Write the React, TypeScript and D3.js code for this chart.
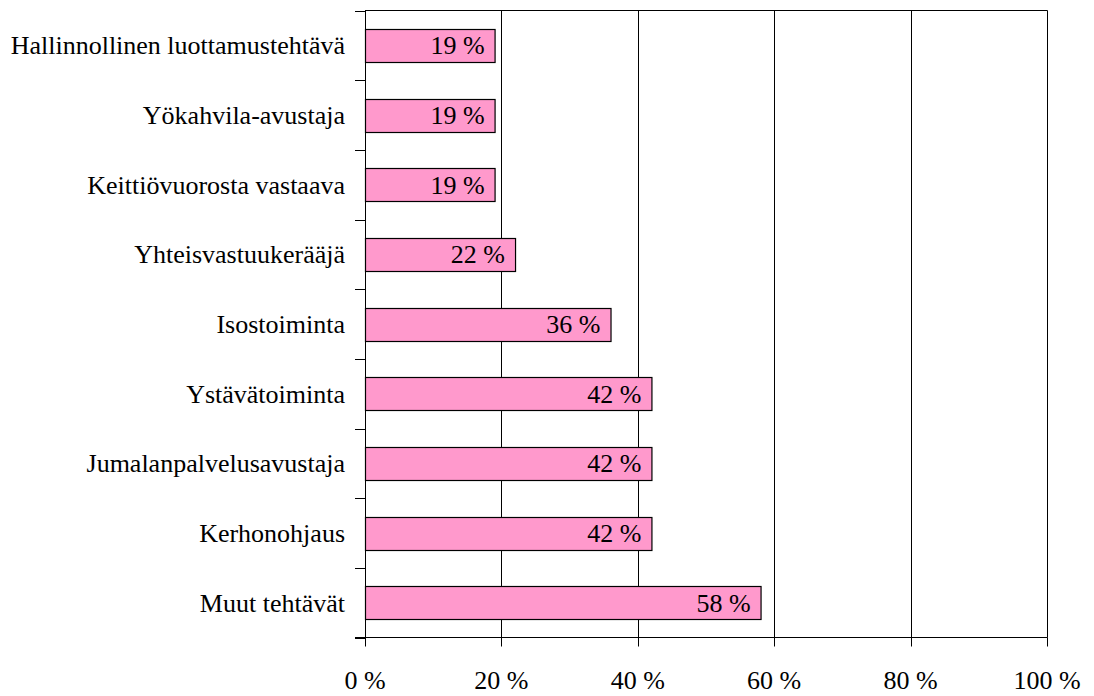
import React from "react";
import * as d3 from "d3";

const categories: string[] = [
    "Hallinnollinen luottamustehtävä",
    "Yökahvila-avustaja",
    "Keittiövuorosta vastaava",
    "Yhteisvastuukerääjä",
    "Isostoiminta",
    "Ystävätoiminta",
    "Jumalanpalvelusavustaja",
    "Kerhonohjaus",
    "Muut tehtävät",
];
const values: number[] = [19, 19, 19, 22, 36, 42, 42, 42, 58];
const xTicks: number[] = [0, 20, 40, 60, 80, 100];

const App: React.FC = () => {
    const width = 1094;
    const height = 696;
    const left = 365;
    const right = 1047;
    const top = 10.5;
    const bottom = 637.5;

    const x = d3.scaleLinear().domain([0, 100]).range([left, right]);
    const y = d3.scaleBand<string>()
        .domain(categories)
        .range([top, bottom])
        .paddingInner(0.53)
        .paddingOuter(0.265);
    const step = y.step();
    const boundaries = d3.range(categories.length + 1).map(i => top + i * step);

    return (
        <svg
            width={width}
            height={height}
            style={{ position: "absolute", left: 0, top: 0, background: "#fff", fontFamily: '"Liberation Serif"', fontSize: "26px" }}
        >
            {/* grid lines */}
            {xTicks.slice(1).map(t => (
                <line key={`g${t}`} x1={Math.round(x(t)) + 0.5} x2={Math.round(x(t)) + 0.5} y1={top} y2={bottom} stroke="#000" strokeWidth={1} />
            ))}
            <line x1={left} x2={right + 0.5} y1={top} y2={top} stroke="#000" />
            {/* bars */}
            {categories.map((c, i) => (
                <g key={c}>
                    <rect
                        x={x(0) + 0.5}
                        y={Math.round(y(c)!) + 0.5}
                        width={x(values[i]) - x(0)}
                        height={Math.round(y.bandwidth())}
                        fill="#FF99CC"
                        stroke="#000"
                        strokeWidth={1.2}
                    />
                    <text x={x(values[i]) - 10} y={y(c)! + y.bandwidth() / 2 + 9} textAnchor="end" fill="#000">
                        {`${values[i]} %`}
                    </text>
                    <text x={345} y={y(c)! + y.bandwidth() / 2 + 9} textAnchor="end" fill="#000">
                        {c}
                    </text>
                </g>
            ))}
            {/* y axis */}
            <line x1={left + 0.5} x2={left + 0.5} y1={top} y2={bottom} stroke="#000" />
            {boundaries.map((b, i) => (
                <line key={`yt${i}`} x1={355} x2={left} y1={Math.round(b) + 0.5} y2={Math.round(b) + 0.5} stroke="#000" />
            ))}
            {/* x axis */}
            <line x1={355} x2={right + 0.5} y1={bottom} y2={bottom} stroke="#000" />
            {xTicks.map(t => (
                <g key={`xt${t}`}>
                    <line x1={Math.round(x(t)) + 0.5} x2={Math.round(x(t)) + 0.5} y1={bottom} y2={bottom + 9} stroke="#000" />
                    <text x={x(t)} y={689} textAnchor="middle" fill="#000">
                        {`${t} %`}
                    </text>
                </g>
            ))}
        </svg>
    );
};

export default App;
